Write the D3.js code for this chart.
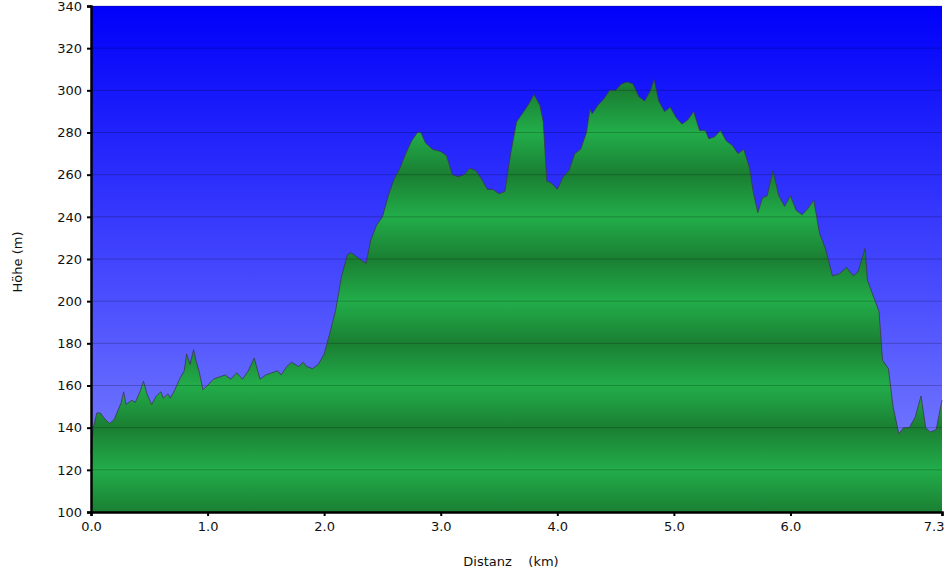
<!DOCTYPE html>
<html><head><meta charset="utf-8">
<script src="https://cdn.jsdelivr.net/npm/d3@7"></script>
<style>body{margin:0;background:#fff}text{font-family:"DejaVu Sans",Verdana,sans-serif}</style>
</head><body><svg id="c" width="945" height="581"></svg>
<script>
const dist=[0.00,0.02,0.05,0.08,0.12,0.16,0.2,0.26,0.28,0.3,0.35,0.38,0.42,0.45,0.48,0.52,0.56,0.6,0.62,0.66,0.68,0.72,0.76,0.8,0.82,0.85,0.88,0.9,0.93,0.96,1.0,1.05,1.1,1.15,1.2,1.25,1.3,1.35,1.4,1.45,1.5,1.55,1.6,1.63,1.68,1.72,1.78,1.82,1.85,1.9,1.95,2.0,2.05,2.1,2.15,2.2,2.23,2.28,2.33,2.36,2.4,2.45,2.5,2.55,2.6,2.65,2.7,2.75,2.8,2.83,2.87,2.93,3.0,3.05,3.1,3.15,3.2,3.25,3.3,3.35,3.4,3.45,3.5,3.55,3.6,3.65,3.7,3.75,3.8,3.85,3.88,3.91,3.95,4.0,4.05,4.1,4.15,4.2,4.25,4.28,4.3,4.35,4.4,4.45,4.5,4.55,4.6,4.65,4.7,4.75,4.8,4.83,4.87,4.92,4.97,5.02,5.07,5.12,5.17,5.22,5.27,5.3,5.35,5.4,5.45,5.5,5.55,5.6,5.65,5.68,5.72,5.76,5.8,5.85,5.9,5.95,6.0,6.05,6.1,6.15,6.2,6.25,6.3,6.36,6.42,6.48,6.54,6.58,6.64,6.66,6.7,6.76,6.79,6.84,6.88,6.93,6.97,7.02,7.07,7.12,7.16,7.2,7.25,7.3];
const elev=[128,140,147,147,144,142,144,152,157,151,153,152,157,162,156,151,155,157,154,156,154,158,163,167,175,170,177,172,166,158,160,163,164,165,163,166,163,167,173,163,165,166,167,165,169,171,169,171,169,168,170,175,185,196,212,222,223,221,219,218,229,236,240,250,258,263,270,276,280,280,275,272,271,269,260,259,260,263,262,258,253,253,251,252,270,285,289,293,298,293,285,257,256,253,259,262,270,272,280,291,289,293,296,300,300,303,304,303,297,295,300,305,295,290,292,287,284,286,290,281,281,277,278,281,276,274,270,272,263,252,242,249,250,262,250,245,250,243,241,244,248,232,225,212,213,216,212,214,225,210,204,195,172,168,150,137,140,140,145,155,140,138,139,153];
const xTicks=[0,1,2,3,4,5,6,7.3];
const yTicks=d3.range(100,341,20);
const svg=d3.select("#c");
const L=91,R=942,T=6,B=512;
const x=d3.scaleLinear().domain([0,7.3]).range([L,R]);
const y=d3.scaleLinear().domain([100,340]).range([B,T]);
const defs=svg.append("defs");
const bg=defs.append("linearGradient").attr("id","bg").attr("x1",0).attr("x2",0).attr("y1",0).attr("y2",1);
bg.append("stop").attr("offset",0).attr("stop-color","#0000fa");
bg.append("stop").attr("offset",1).attr("stop-color","#8288ff");
const gg=defs.append("linearGradient").attr("id","gg").attr("gradientUnits","userSpaceOnUse")
 .attr("x1",0).attr("x2",0).attr("y1",y(140)).attr("y2",y(100)).attr("spreadMethod","repeat");
gg.append("stop").attr("offset",0).attr("stop-color","#1a7f32");
gg.append("stop").attr("offset",0.5).attr("stop-color","#22ad4a");
gg.append("stop").attr("offset",1).attr("stop-color","#1a7f32");
svg.append("rect").attr("x",L).attr("y",T).attr("width",R-L).attr("height",B-T).attr("fill","url(#bg)");
const data=dist.map((d,i)=>[d,elev[i]]);
svg.append("path").datum(data).attr("fill","url(#gg)")
 .attr("d",d3.area().x(d=>x(d[0])).y0(B).y1(d=>y(d[1])));
svg.append("g").selectAll("line").data(yTicks.slice(1)).join("line")
 .attr("x1",L).attr("x2",R).attr("y1",d=>y(d)).attr("y2",d=>y(d)).attr("stroke","#000").attr("stroke-opacity",0.22);
svg.append("path").datum(data).attr("fill","none").attr("stroke","#3a3a4a").attr("stroke-opacity",0.8).attr("stroke-width",1)
 .attr("d",d3.line().x(d=>x(d[0])).y(d=>y(d[1])));
const ya=svg.append("g").attr("transform",`translate(${L},0)`).call(d3.axisLeft(y).tickValues(yTicks).tickSize(4).tickFormat(d3.format("d")));
const xa=svg.append("g").attr("transform",`translate(0,${B})`).call(d3.axisBottom(x).tickValues(xTicks).tickSize(4).tickFormat(d3.format(".1f")));
[ya,xa].forEach(a=>{a.selectAll("text").attr("font-size",13).attr("fill","#111").style("font-family","DejaVu Sans");a.select(".domain").attr("stroke-width",2.5);a.selectAll(".tick line").attr("stroke-width",2);});
ya.selectAll("text").attr("dx",-2);
xa.selectAll("text").attr("dy","0.9em");
xa.selectAll("text").filter(d=>d===7.3).attr("text-anchor","end").attr("dx",2);
svg.append("text").attr("transform","translate(22,262) rotate(-90)").attr("text-anchor","middle").attr("font-size",13).attr("fill","#111").text("Höhe (m)");
svg.append("text").attr("x",511).attr("y",566).attr("text-anchor","middle").attr("font-size",13).attr("fill","#111").attr("xml:space","preserve").text("Distanz    (km)");
</script></body></html>
